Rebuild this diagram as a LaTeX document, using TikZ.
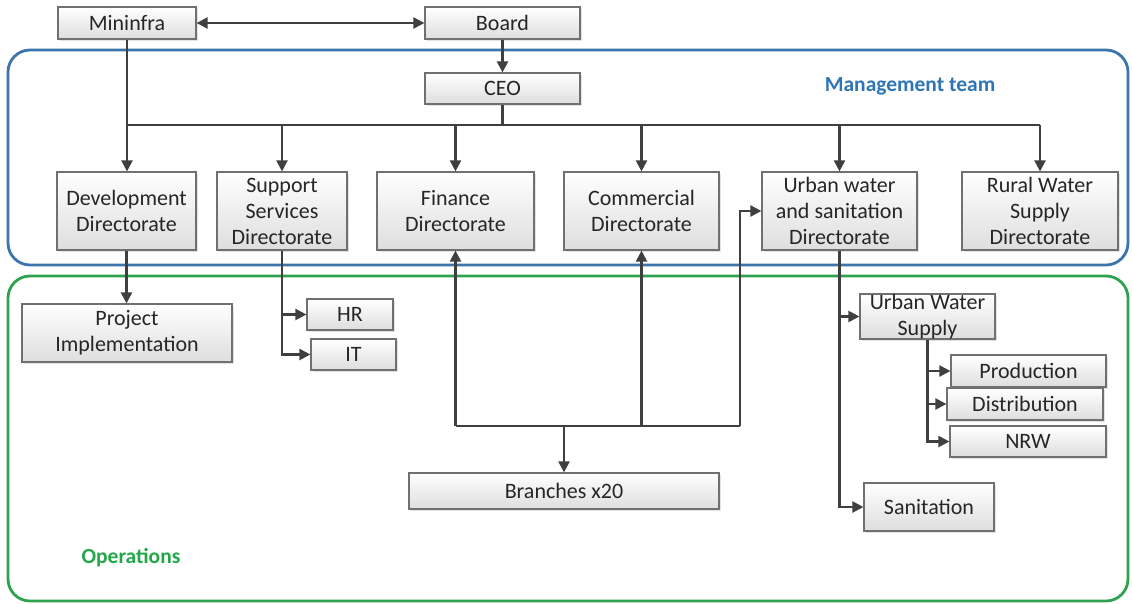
\documentclass[tikz,border=0pt]{standalone}
\usepackage{fontspec}
\setmainfont{Carlito}
\usetikzlibrary{arrows.meta,shadows}
\definecolor{boxline}{HTML}{707070}
\definecolor{conn}{HTML}{3F3F3F}
\definecolor{txt}{HTML}{262626}
\definecolor{mgmt}{HTML}{3C74AC}
\definecolor{mgmttxt}{HTML}{2E75B6}
\definecolor{ops}{HTML}{2EA24F}
\definecolor{opstxt}{HTML}{22A84A}

\begin{document}
\begin{tikzpicture}[x=1pt,y=-1pt,
  box/.style={draw=boxline, line width=1.2pt, top color=white, bottom color=black!13,
    drop shadow={shadow xshift=1.5pt, shadow yshift=-1.5pt, opacity=0.22},
    text=txt, align=center, inner sep=0pt, font=\fontsize{22}{26}\selectfont},
  ln/.style={draw=conn, line width=2.2pt},
  arr/.style={ln, -{Triangle[length=11pt,width=11pt]}},
  biarr/.style={ln, {Triangle[length=11pt,width=11pt]}-{Triangle[length=11pt,width=11pt]}},
  frame/.style={line width=2.8pt, rounded corners=22pt},
  grouplabel/.style={font=\fontsize{21.5}{26}\selectfont\bfseries}
]
\useasboundingbox (0,0) rectangle (1132,603);

% group frames
\draw[frame, draw=mgmt] (8,50) rectangle (1128,265);
\draw[frame, draw=ops] (8,276) rectangle (1128,601);
\node[grouplabel, text=mgmttxt] (mlabel) at (910,86) {Management team};
\node[grouplabel, text=opstxt] (olabel) at (131,558) {Operations};

% top level
\node[box, minimum width=138pt, minimum height=32pt] (mininfra) at (127,23) {Mininfra};
\node[box, minimum width=155pt, minimum height=32pt] (board) at (502.5,23) {Board};
\node[box, minimum width=155pt, minimum height=31pt] (ceo) at (502.5,88.5) {CEO};

% directorates
\node[box, minimum width=139pt, minimum height=78pt] (dev) at (126.5,211) {Development\\Directorate};
\node[box, minimum width=130pt, minimum height=78pt] (sup) at (282,211) {Support\\Services\\Directorate};
\node[box, minimum width=157pt, minimum height=78pt] (fin) at (455.5,211) {Finance\\Directorate};
\node[box, minimum width=155pt, minimum height=78pt] (com) at (641.5,211) {Commercial\\Directorate};
\node[box, minimum width=155pt, minimum height=78pt] (urb) at (839.5,211) {Urban water\\and sanitation\\Directorate};
\node[box, minimum width=156pt, minimum height=78pt] (rur) at (1040,211) {Rural Water\\Supply\\Directorate};

% operations
\node[box, minimum width=210pt, minimum height=58pt] (proj) at (127,333) {Project\\Implementation};
\node[box, minimum width=86pt, minimum height=31pt] (hr) at (350,314.5) {HR};
\node[box, minimum width=85pt, minimum height=31pt] (it) at (353.5,354.5) {IT};
\node[box, minimum width=310pt, minimum height=36pt] (branches) at (564,491) {Branches x20};
\node[box, minimum width=135pt, minimum height=45pt] (uws) at (927.5,316.5) {Urban Water\\Supply};
\node[box, minimum width=155pt, minimum height=32pt] (prod) at (1028.5,371) {Production};
\node[box, minimum width=156pt, minimum height=32pt] (dist) at (1025,404) {Distribution};
\node[box, minimum width=156pt, minimum height=31pt] (nrw) at (1028,441.5) {NRW};
\node[box, minimum width=130pt, minimum height=48pt] (san) at (929,507) {Sanitation};

% junction points
\coordinate (bus) at (0,125);
\coordinate (jn) at (564,426);
\coordinate (jr) at (740,426);

% connectors
\draw[biarr] (mininfra.east) -- (board.west);
\draw[arr] (board.south) -- (ceo.north);
\draw[arr] (mininfra.south) -- (mininfra.south |- dev.north);
\draw[ln] (ceo.south) -- (ceo.south |- bus);
\draw[ln] (mininfra.south |- bus) -- (rur.north |- bus);
\draw[arr] (sup.north |- bus) -- (sup.north);
\draw[arr] (fin.north |- bus) -- (fin.north);
\draw[arr] (com.north |- bus) -- (com.north);
\draw[arr] (urb.north |- bus) -- (urb.north);
\draw[arr] (rur.north |- bus) -- (rur.north);

\draw[arr] (dev.south) -- (dev.south |- proj.north);
\draw[arr] (sup.south) |- (hr.west);
\draw[arr] (sup.south) |- (it.west);

\draw[ln] (fin.south |- jn) -- (jr);
\draw[arr] (fin.south |- jn) -- (fin.south);
\draw[arr] (com.south |- jn) -- (com.south);
\draw[arr] (jr) |- (urb.west);
\draw[arr] (jn) -- (branches.north);

\draw[arr] (urb.south) |- (uws.west);
\draw[arr] (urb.south) |- (san.west);
\draw[arr] (uws.south) |- (prod.west);
\draw[arr] (uws.south) |- (dist.west);
\draw[arr] (uws.south) |- (nrw.west);
\end{tikzpicture}
\end{document}
